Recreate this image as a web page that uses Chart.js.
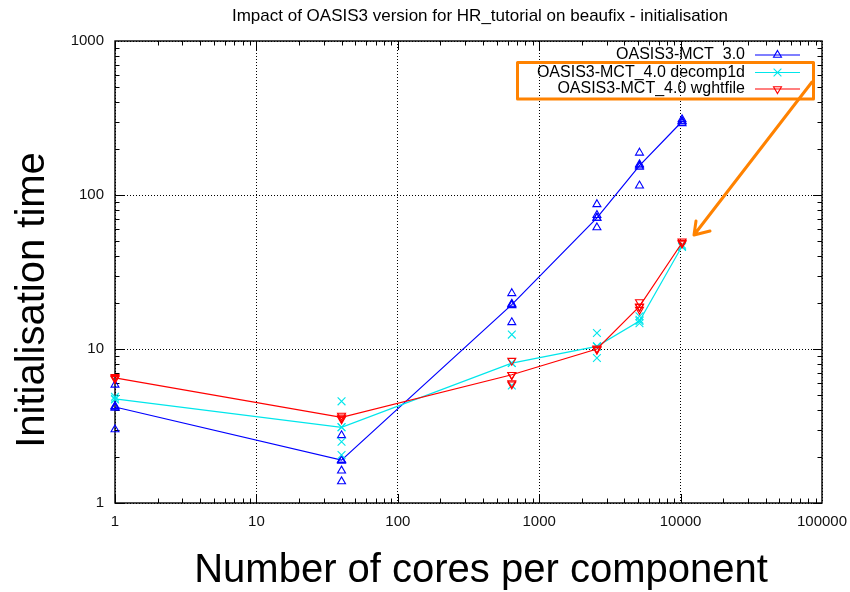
<!DOCTYPE html>
<html>
<head>
<meta charset="utf-8">
<title>Impact of OASIS3 version for HR_tutorial on beaufix - initialisation</title>
<script src="https://cdn.jsdelivr.net/npm/chart.js@4.4.1/dist/chart.umd.min.js"></script>
<style>
  html, body { margin: 0; padding: 0; background: #fff; }
  canvas { display: block; }
</style>
</head>
<body>
<canvas id="myChart" width="850" height="592"></canvas>
<script>
// number of cores per component (x) and tick labels
var cores = [1, 40, 640, 2560, 5120, 10240];
var xTicks = [1, 10, 100, 1000, 10000, 100000];
var yTicks = [1, 10, 100, 1000];

// OASIS3-MCT_3.0 : line + individual runs
var mct30Mean = [4.2, 1.9, 19.4, 71, 155, 300];
var mct30Runs = [[5.85, 4.25, 4.15, 3.0], [2.75, 1.9, 1.88, 1.62, 1.38], [23, 19.6, 19.2, 14.9], [87, 74, 71, 61.5], [188, 158, 152, 115], [310, 300, 292]];

// OASIS3-MCT_4.0 decomp1d
var decompMean = [4.75, 3.1, 8.1, 10.4, 15.2, 46.5];
var decompRuns = [[4.9, 4.7], [4.57, 3.1, 2.5, 2.05], [12.4, 8.1, 5.8], [12.7, 10.4, 8.75], [16.3, 15.5, 14.7], [47.5, 46]];

// OASIS3-MCT_4.0 wghtfile
var wghtMean = [6.5, 3.6, 6.8, 10.0, 18.9, 49];
var wghtRuns = [[6.6, 6.4], [3.7, 3.55, 3.5], [8.4, 6.8, 6.0, 5.9], [10.1, 9.9], [20.2, 18.8, 18.0], [50, 48.5]];

var FONT = '"Liberation Sans", Arial, Helvetica, sans-serif';
var ORANGE = '#ff8200';

var series = [
    {label: 'OASIS3-MCT_3.0', color: '#0000ff', style: 'triangle', rot: 0, r: 4.6, mean: mct30Mean, runs: mct30Runs},
    {label: 'OASIS3-MCT_4.0 decomp1d', color: 'rgb(0,230,235)', style: 'crossRot', rot: 0, r: 5.5, mean: decompMean, runs: decompRuns},
    {label: 'OASIS3-MCT_4.0 wghtfile', color: '#ff0000', style: 'triangle', rot: 180, r: 4.6, mean: wghtMean, runs: wghtRuns}
];

var datasets = [];
series.forEach(function (s, k) {
    var pts = [];
    s.runs.forEach(function (vals, i) {
        vals.forEach(function (v) { pts.push({x: cores[i], y: v}); });
    });
    datasets.push({
        label: s.label,
        data: cores.map(function (c, i) { return {x: c, y: s.mean[i]}; }),
        showLine: true,
        borderColor: s.color,
        borderWidth: 1.2,
        pointStyle: s.style,
        pointRotation: s.rot,
        pointRadius: s.r,
        pointBorderColor: s.color,
        pointBackgroundColor: 'rgba(0,0,0,0)',
        pointBorderWidth: 1.1,
        clip: false,
        order: 10 - k
    });
    datasets.push({
        label: s.label + ' runs',
        data: pts,
        showLine: false,
        pointStyle: s.style,
        pointRotation: s.rot,
        pointRadius: s.r,
        pointBorderColor: s.color,
        pointBackgroundColor: 'rgba(0,0,0,0)',
        pointBorderWidth: 1.1,
        clip: false,
        order: 10 - k
    });
});

function marker(ctx, style, x, y, r, rot) {
    ctx.beginPath();
    if (style === 'crossRot') {
        var d = r * 0.7071;
        ctx.moveTo(x - d, y - d); ctx.lineTo(x + d, y + d);
        ctx.moveTo(x - d, y + d); ctx.lineTo(x + d, y - d);
    } else {
        var s = rot ? -1 : 1;
        ctx.moveTo(x, y - s * r);
        ctx.lineTo(x + 0.866 * r, y + s * 0.5 * r);
        ctx.lineTo(x - 0.866 * r, y + s * 0.5 * r);
        ctx.closePath();
    }
    ctx.stroke();
}

// gnuplot look: solid frame, inward ticks, titles, key and the orange notes
var gnuplotFrame = {
    id: 'gnuplotFrame',
    beforeDatasetsDraw: function (chart) {
        var ctx = chart.ctx, a = chart.chartArea;
        var xs = chart.scales.x, ys = chart.scales.y;
        ctx.save();
        ctx.strokeStyle = '#000';
        ctx.lineWidth = 1;
        ctx.beginPath();
        for (var i = 0; i < xTicks.length - 1; i++) {
            for (var m = 1; m <= 9; m++) {
                var px = Math.round(xs.getPixelForValue(xTicks[i] * m)) + 0.5;
                var len = m === 1 ? 9 : 4.5;
                ctx.moveTo(px, a.bottom); ctx.lineTo(px, a.bottom - len);
                ctx.moveTo(px, a.top); ctx.lineTo(px, a.top + len);
            }
        }
        for (var j = 0; j < yTicks.length - 1; j++) {
            for (var n = 1; n <= 9; n++) {
                var py = Math.round(ys.getPixelForValue(yTicks[j] * n)) + 0.5;
                var l2 = n === 1 ? 9 : 4.5;
                ctx.moveTo(a.left, py); ctx.lineTo(a.left + l2, py);
                ctx.moveTo(a.right, py); ctx.lineTo(a.right - l2, py);
            }
        }
        ctx.stroke();
        ctx.lineWidth = 1.4;
        ctx.strokeRect(a.left, a.top, a.right - a.left, a.bottom - a.top);
        ctx.restore();
    },
    afterDraw: function (chart) {
        var ctx = chart.ctx;
        ctx.save();
        ctx.fillStyle = '#000';

        // title
        ctx.font = '17px ' + FONT;
        ctx.textAlign = 'center';
        ctx.textBaseline = 'middle';
        ctx.fillText('Impact of OASIS3 version for HR_tutorial on beaufix - initialisation', 480, 16);

        // axis titles
        ctx.font = '40px ' + FONT;
        ctx.textBaseline = 'alphabetic';
        ctx.fillText('Number of cores per component', 481, 582);
        ctx.save();
        ctx.translate(44, 300);
        ctx.rotate(-Math.PI / 2);
        ctx.fillText('Initialisation time', 0, 0);
        ctx.restore();

        // key
        var rows = [55, 72.5, 89];
        ctx.font = '16px ' + FONT;
        ctx.textAlign = 'right';
        ctx.textBaseline = 'middle';
        series.forEach(function (s, k) {
            var y = rows[k];
            ctx.fillStyle = '#000';
            ctx.fillText(s.label, 745, y);
            ctx.strokeStyle = s.color;
            ctx.lineWidth = 1.2;
            ctx.beginPath();
            ctx.moveTo(755, y); ctx.lineTo(800, y);
            ctx.stroke();
            ctx.lineWidth = 1.1;
            marker(ctx, s.style, 777.5, y, s.r, s.rot);
        });

        // orange highlight box and arrow
        ctx.strokeStyle = ORANGE;
        ctx.lineWidth = 3;
        ctx.lineCap = 'round';
        ctx.lineJoin = 'round';
        ctx.strokeRect(517.5, 62.5, 296, 36.5);
        ctx.beginPath();
        ctx.moveTo(812, 82);
        ctx.lineTo(694, 235);
        ctx.moveTo(696, 221);
        ctx.lineTo(694, 235);
        ctx.lineTo(710, 231);
        ctx.stroke();
        ctx.restore();
    }
};

var ctx = document.getElementById('myChart').getContext('2d');
var chart = new Chart(ctx, {
    type: 'scatter',
    data: {datasets: datasets},
    plugins: [gnuplotFrame],
    options: {
        responsive: false,
        animation: false,
        layout: {padding: {left: 0, top: 41, right: 28, bottom: 0}},
        plugins: {
            legend: {display: false},
            title: {display: false},
            tooltip: {enabled: false}
        },
        scales: {
            x: {
                type: 'logarithmic',
                min: 1,
                max: 100000,
                afterBuildTicks: function (s) { s.ticks = xTicks.map(function (v) { return {value: v}; }); },
                afterFit: function (s) { s.height = 89; s.paddingLeft = 0; s.paddingRight = 0; },
                grid: {color: '#000', lineWidth: 1, drawTicks: false},
                border: {display: false, dash: [1, 2]},
                ticks: {
                    autoSkip: false, maxRotation: 0, padding: 10,
                    color: '#111', font: {family: FONT, size: 15},
                    callback: function (v) { return String(v); }
                }
            },
            y: {
                type: 'logarithmic',
                min: 1,
                max: 1000,
                afterBuildTicks: function (s) { s.ticks = yTicks.map(function (v) { return {value: v}; }); },
                afterFit: function (s) { s.width = 115; s.paddingTop = 0; s.paddingBottom = 0; },
                grid: {color: '#000', lineWidth: 1, drawTicks: false},
                border: {display: false, dash: [1, 2]},
                ticks: {
                    autoSkip: false, padding: 11,
                    color: '#111', font: {family: FONT, size: 15},
                    callback: function (v) { return String(v); }
                }
            }
        }
    }
});
</script>
</body>
</html>
